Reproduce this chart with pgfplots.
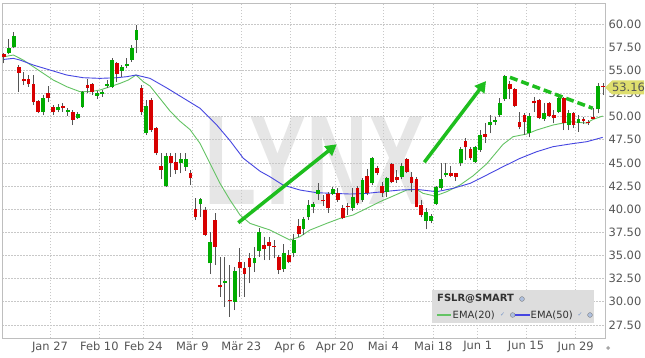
\documentclass[border=0pt]{standalone}
\usepackage{pgfplots}
\pgfplotsset{compat=1.18}
\usepackage{pgfplotstable}
\usepackage{graphicx}
\usepackage{fontspec}
\setmainfont{DejaVu Sans}
\newfontfamily\wmfont{Liberation Sans}
\usetikzlibrary{arrows.meta}
\definecolor{candleG}{RGB}{0,172,0}
\definecolor{candleR}{RGB}{215,0,0}
\definecolor{wick}{RGB}{85,85,85}
\definecolor{emaG}{RGB}{100,195,100}
\definecolor{emaB}{RGB}{70,70,225}
\definecolor{gridc}{RGB}{200,200,200}
\definecolor{framec}{RGB}{190,190,190}
\definecolor{labelc}{RGB}{85,85,85}
\definecolor{arrowG}{RGB}{30,190,30}
\definecolor{wmgray}{RGB}{230,230,230}
\definecolor{legendbg}{RGB}{221,221,221}
\definecolor{legtext}{RGB}{50,50,50}
\definecolor{tagc}{RGB}{222,222,110}
\definecolor{iconc}{RGB}{120,150,200}

\pgfplotstableread{
k o h l c
2 56.83 58.38 56.72 57.44
3 57.48 59.17 57.37 58.74
9 50.53 52.33 50.17 51.97
12 50.71 51.32 50.46 51.07
14 50.53 50.89 50.10 50.68
16 49.81 50.46 49.74 50.24
17 51.07 52.76 50.96 52.69
20 52.26 52.76 51.90 52.51
21 52.47 52.87 52.15 52.69
22 53.34 53.95 53.05 53.52
23 53.23 56.29 53.12 56.11
25 54.92 55.57 54.31 55.32
26 55.50 56.29 55.21 55.64
27 56.11 57.73 55.93 57.37
28 58.27 59.89 56.83 59.35
30 48.26 51.79 48.01 51.14
34 42.50 46.10 42.43 45.74
37 44.95 46.03 43.87 45.38
38 44.59 46.10 44.16 45.38
41 40.52 41.17 39.19 41.06
43 34.15 37.57 33.00 36.49
46 32.06 34.87 29.47 32.24
48 30.01 33.79 29.11 33.36
52 34.15 35.95 33.25 34.72
53 35.48 37.93 34.87 37.54
58 33.50 36.24 33.25 35.23
60 35.23 37.32 34.80 36.67
62 37.82 39.19 37.21 38.90
63 39.12 40.99 38.83 40.45
64 40.27 40.81 39.55 40.56
65 41.64 42.86 40.99 42.07
68 41.64 42.43 41.53 42.14
72 40.09 42.25 39.84 41.28
74 40.99 43.33 40.81 43.15
76 42.79 45.67 42.61 45.49
79 41.89 43.51 41.28 43.33
82 43.51 44.95 43.22 44.66
87 38.76 40.09 37.82 39.73
88 38.76 39.48 38.47 39.30
89 40.56 42.50 40.45 42.43
90 42.25 44.95 42.07 43.22
91 43.65 44.95 43.51 43.87
94 44.95 46.75 44.66 46.46
97 45.13 46.82 44.95 46.68
98 46.39 48.55 46.21 48.01
100 49.09 50.17 48.19 49.45
101 49.45 49.92 49.09 49.63
102 50.17 51.97 49.99 51.43
103 51.86 54.49 51.72 54.38
108 48.26 50.35 47.76 50.06
111 49.70 51.43 49.56 50.42
114 50.53 52.15 50.35 51.97
116 49.09 50.71 48.55 50.42
118 49.27 50.17 48.37 49.70
122 50.78 53.66 50.35 53.30
}\up

\pgfplotstableread{
k o h l c
1 56.72 56.83 55.75 56.43
4 55.32 55.57 52.69 54.74
5 54.06 54.78 53.41 53.88
6 54.06 54.49 53.23 53.48
7 53.52 54.49 51.25 51.54
8 51.72 51.79 50.35 50.53
10 52.51 53.30 51.54 51.97
11 51.07 51.25 50.17 50.46
13 51.18 51.43 50.53 50.89
15 50.53 50.71 49.09 49.63
18 53.41 54.02 52.51 53.12
19 53.48 53.59 52.33 52.69
24 55.75 55.93 53.77 54.56
29 53.05 53.41 50.17 50.53
31 51.79 51.97 48.37 48.55
32 48.73 48.91 45.85 46.03
33 44.66 46.10 43.22 44.23
35 45.78 46.10 43.51 44.95
36 45.13 46.03 43.80 44.23
39 43.94 44.23 42.61 43.33
40 39.98 41.17 38.83 39.12
42 39.91 40.27 37.10 37.21
44 38.83 39.62 33.97 35.95
45 31.81 34.87 30.55 31.56
47 30.19 33.97 28.39 30.05
49 34.33 35.77 30.55 33.61
50 33.68 34.33 30.55 33.00
51 34.69 35.23 31.99 33.72
54 36.13 37.03 34.51 35.66
55 36.49 37.03 34.51 36.02
56 36.06 36.67 34.69 35.91
57 34.80 35.05 33.00 33.43
59 35.05 35.59 34.15 34.33
61 38.22 38.90 37.03 37.32
66 40.99 41.53 40.34 40.85
67 41.64 41.89 39.62 40.09
69 41.71 42.25 40.81 40.99
70 40.09 40.45 38.90 39.01
71 40.38 40.63 39.37 40.20
73 42.32 42.50 40.45 40.63
75 43.62 44.30 41.53 41.78
77 44.41 44.66 43.69 43.94
78 42.50 42.97 41.35 41.78
80 44.88 44.95 42.79 42.97
81 43.51 44.23 42.86 43.15
83 45.38 45.49 43.87 44.05
84 43.51 44.05 41.89 42.79
85 43.22 43.51 40.20 40.27
86 40.45 40.99 39.12 39.37
92 43.87 44.66 43.44 43.62
93 43.87 43.94 43.08 43.44
95 47.36 47.65 45.31 46.68
96 46.46 46.68 45.31 45.49
99 48.08 49.27 47.18 47.83
104 53.52 53.88 51.86 52.94
105 52.94 53.05 51.00 51.14
106 49.45 50.46 48.62 48.91
107 50.17 50.35 48.01 49.45
109 51.65 52.15 50.53 51.43
110 51.79 51.86 49.70 49.81
112 51.50 51.61 49.99 50.06
113 50.17 50.71 49.27 49.81
115 51.97 52.15 48.55 49.27
117 50.35 50.53 48.73 49.09
119 49.70 49.99 49.20 49.56
120 49.41 49.63 49.09 49.27
121 49.99 50.89 49.70 49.77
123 53.30 53.59 52.33 53.16
}\down

\pgfplotsset{
  candlepart/.style 2 args={draw=none, mark=none, forget plot,
    error bars/.cd, y dir=plus, y explicit, error mark=none,
    error bar style={line width=#1, draw=#2, solid}},
}

\begin{document}
\begin{tikzpicture}
\useasboundingbox (0bp,0bp) rectangle (645bp,358bp);
\fill[white] (0bp,0bp) rectangle (645bp,358bp);
% watermark
\node[inner sep=0pt, text=wmgray] at (315bp,197bp) {\scalebox{0.67}[1]{\wmfont\bfseries\fontsize{128}{128}\selectfont LYNX}};
\begin{axis}[
  at={(2bp,20bp)}, anchor=south west,
  scale only axis, width=603bp, height=335bp,
  xmin=0.593, xmax=123.4, ymin=26.09, ymax=62.27,
  axis line style={draw=framec, line width=0.8bp},
  major tick length=0pt,
  xtick={10.37,20.41,29.37,39.35,49.33,59.25,68.41,78.25,88.43,97.48,107.31,117.43},
  xticklabels={Jan 27,Feb 10,Feb 24,Mär 9,Mär 23,Apr 6,Apr 20,Mai 4,Mai 18,Jun 1,Jun 15,Jun 29},
  ytick={27.5,30,32.5,35,37.5,40,42.5,45,47.5,50,52.5,55,57.5,60},
  yticklabel pos=right,
  scaled y ticks=false,
  /pgf/number format/assume math mode=true,
  yticklabel style={/pgf/number format/fixed, /pgf/number format/fixed zerofill, /pgf/number format/precision=2},
  ticklabel style={font=\fontsize{11.5}{13}\selectfont, text=labelc},
  grid=major,
  major grid style={draw=gridc, line width=0.8bp, dash pattern=on 1.5bp off 1.5bp},
]
% EMA lines
\addplot[emaG, line width=0.9bp, mark=none] coordinates {(1,56.47)(2.9,56.65)(4.93,56.11)(6.97,55.39)(9.0,54.67)(11.04,53.95)(13.77,53.23)(16.48,52.69)(18.52,52.69)(20.55,52.87)(22.59,53.23)(24.63,53.59)(26.32,53.95)(27.88,54.49)(29.37,53.77)(30.74,53.3)(32.4,52.2)(34.81,50.6)(36.85,49.5)(38.88,48.6)(40.92,47.11)(42.96,44.95)(44.99,42.79)(47.03,40.99)(49.07,39.37)(51.1,38.47)(53.14,38.11)(55.18,37.75)(57.21,37.21)(59.25,36.67)(61.28,37.03)(63.32,37.75)(66.72,38.47)(69.43,39.01)(72.08,39.37)(74.87,40.09)(77.58,40.81)(80.23,41.42)(83.02,42.07)(85.05,42.14)(86.34,41.71)(88.78,41.42)(91.16,41.89)(93.87,42.61)(96.52,43.6)(99.31,44.9)(102.63,47.0)(104.67,47.83)(107.46,48.12)(109.49,48.55)(112.81,49.09)(116.27,49.45)(119.68,49.3)(120.96,49.7)(122.93,50.06)};
\addplot[emaB, line width=0.9bp, mark=none] coordinates {(1,56.18)(2.9,56.29)(4.26,56.11)(6.97,55.57)(10.37,55.03)(13.77,54.49)(17.15,54.2)(20.55,54.13)(23.95,54.2)(25.99,54.31)(27.88,54.49)(30.74,54.13)(34.14,53.1)(37.52,52.0)(40.92,50.9)(44.32,49.1)(47.03,47.4)(49.74,45.5)(53.14,44.1)(55.18,43.5)(57.82,42.61)(61.28,42.07)(64.69,41.78)(68.0,41.71)(71.47,41.64)(74.87,41.71)(78.19,41.89)(81.65,42.07)(85.05,42.14)(89.13,41.89)(92.45,42.25)(95.91,42.79)(99.31,43.69)(102.63,44.59)(106.09,45.49)(109.49,46.21)(112.81,46.75)(116.27,47.04)(119.68,47.29)(122.93,47.76)};
% wicks
\addplot[candlepart={1bp}{wick}] table[x=k, y=l, y error expr=\thisrow{h}-\thisrow{l}] {\up};
\addplot[candlepart={1bp}{wick}] table[x=k, y=l, y error expr=\thisrow{h}-\thisrow{l}] {\down};
% bodies
\addplot[candlepart={3.8bp}{candleG}] table[x=k, y=o, y error expr=\thisrow{c}-\thisrow{o}] {\up};
\addplot[candlepart={3.8bp}{candleR}] table[x=k, y=c, y error expr=\thisrow{o}-\thisrow{c}] {\down};
% annotations
\draw[arrowG, line width=3.5bp, -{Triangle[length=11bp,width=12bp]}] (axis cs:48.72,38.54) -- (axis cs:68.76,47.01);
\draw[arrowG, line width=3.5bp, -{Triangle[length=11bp,width=12bp]}] (axis cs:86.6,45.07) -- (axis cs:99.17,53.84);
\draw[arrowG, line width=3.5bp, dash pattern=on 8bp off 4bp] (axis cs:104.05,54.24) -- (axis cs:120.9,50.9);
\end{axis}
% legend box
\fill[legendbg] (432bp,35.3bp) rectangle (594bp,68bp);
\node[anchor=west, inner sep=0pt, font=\bfseries\fontsize{10}{12}\selectfont, text=legtext] at (437bp,59bp) {FSLR@SMART};
\filldraw[fill=iconc!60, draw=gray, line width=0.4bp] (522bp,59bp) circle (2.4bp);
\draw[emaG, line width=1.1bp] (437bp,43bp) -- (451bp,43bp);
\node[anchor=west, inner sep=0pt, font=\fontsize{10}{12}\selectfont, text=legtext] at (452.5bp,43bp) {EMA(20)};
\node[inner sep=0pt, font=\fontsize{6}{7}\selectfont, text=iconc] at (502.7bp,43bp) {✓};
\filldraw[fill=iconc!60, draw=gray, line width=0.4bp] (512.7bp,43bp) circle (2.4bp);
\draw[emaB, line width=1.1bp] (515bp,43bp) -- (530bp,43bp);
\node[anchor=west, inner sep=0pt, font=\fontsize{10}{12}\selectfont, text=legtext] at (530.5bp,43bp) {EMA(50)};
\node[inner sep=0pt, font=\fontsize{6}{7}\selectfont, text=iconc] at (580bp,43bp) {✓};
\filldraw[fill=iconc!60, draw=gray, line width=0.4bp] (590bp,43bp) circle (2.4bp);
% last price tag
\fill[tagc] (605bp,270.5bp) -- (612bp,277.5bp) -- (644bp,277.5bp) -- (644bp,263.5bp) -- (612bp,263.5bp) -- cycle;
\node[inner sep=0pt, font=\fontsize{11.5}{13}\selectfont, text=labelc] at (628.5bp,270.5bp) {53.16};
% corner icon
\fill[gray!70] (608bp,12bp) -- (610bp,10bp) -- (608bp,8bp) -- (606bp,10bp) -- cycle;
\end{tikzpicture}
\end{document}
